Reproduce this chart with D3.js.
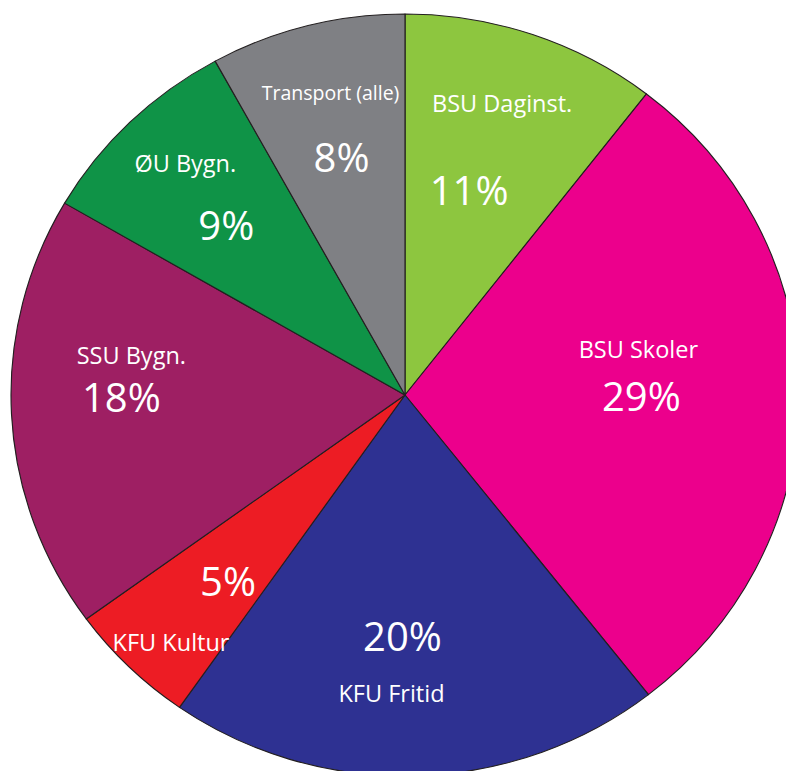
<!DOCTYPE html>
<html>
<head>
<meta charset="utf-8">
<script src="https://cdn.jsdelivr.net/npm/d3@7"></script>
<style>
  body { margin: 0; background: #fff; overflow: hidden; }
  text { font-family: "Open Sans", "Noto Sans", sans-serif; fill: #fff; }
</style>
</head>
<body>
<div id="chart"></div>
<script>
// data, clockwise from 12 o'clock (slice sizes as drawn, labels as printed)
const categories = ["BSU Daginst.", "BSU Skoler", "KFU Fritid", "KFU Kultur", "SSU Bygn.", "ØU Bygn.", "Transport (alle)"];
const shares = [10.5, 28.9, 20.3, 5.3, 18.4, 8.6, 8.0];
const shareLabels = ["11%", "29%", "20%", "5%", "18%", "9%", "8%"];
const colors = ["#8dc63f", "#ec008c", "#2e3192", "#ed1c24", "#9e1f63", "#0f9347", "#7f8084"];

// label layout per slice: angle nudge (deg), radius fraction, name offset x / y
const pctAngle = [-2.0, 0.7, 2.2, -1.9, 2.3, -1.3, -0.1];
const pctRadius = [0.56, 0.60, 0.635, 0.664, 0.72, 0.635, 0.643];
const nameDx = [33, -3, -11, -57, 10, -41, -11];
const nameDy = [-93, -53, 51, 56, -48, -68, -72];
const nameSize = [23.5, 23.5, 23.5, 23.5, 23.5, 23.5, 19.5];

const width = 786, height = 771;
const cx = 405, cy = 395;
const ry = 381, sx = 394 / 381;   // the pie is slightly stretched sideways

const svg = d3.select("#chart")
    .append("svg")
    .attr("width", width)
    .attr("height", height);

const data = categories.map((c, i) => ({name: c, value: shares[i], label: shareLabels[i]}));

const pie = d3.pie().sort(null).value(d => d.value);
const arc = d3.arc().innerRadius(0).outerRadius(ry);
const arcs = pie(data);

svg.append("g")
    .attr("transform", `translate(${cx},${cy}) scale(${sx},1)`)
    .selectAll("path")
    .data(arcs)
    .join("path")
    .attr("d", arc)
    .attr("fill", (d, i) => colors[i])
    .attr("stroke", "#231f20")
    .attr("stroke-width", 1.1)
    .attr("stroke-linejoin", "round");

// label anchor point in screen coords
function anchor(d) {
    const a = (d.startAngle + d.endAngle) / 2 + pctAngle[d.index] * Math.PI / 180;
    const r = pctRadius[d.index] * ry;
    return [cx + Math.sin(a) * r * sx, cy - Math.cos(a) * r];
}

const labels = svg.append("g");

labels.selectAll("text.pct")
    .data(arcs)
    .join("text")
    .attr("class", "pct")
    .attr("x", d => anchor(d)[0])
    .attr("y", d => anchor(d)[1])
    .attr("dy", "0.36em")
    .attr("text-anchor", "middle")
    .attr("font-size", 40)
    .text(d => d.data.label);

labels.selectAll("text.name")
    .data(arcs)
    .join("text")
    .attr("class", "name")
    .attr("x", d => anchor(d)[0] + nameDx[d.index])
    .attr("y", d => anchor(d)[1] + 14 + nameDy[d.index])
    .attr("text-anchor", "middle")
    .attr("font-size", d => nameSize[d.index])
    .text(d => d.data.name);
</script>
</body>
</html>
